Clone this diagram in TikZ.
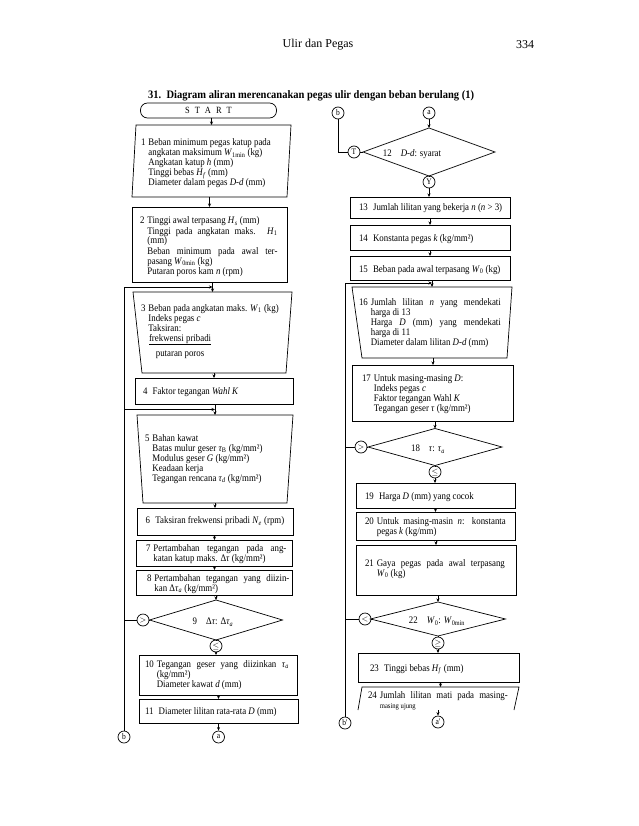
\documentclass[tikz,border=0pt]{standalone}
\usepackage{fontspec}
\setmainfont{Liberation Serif}
\newfontfamily\bodyfam{Liberation Serif}[FakeStretch=0.885]
\newfontfamily\titlefam{Liberation Serif}[FakeStretch=0.92]
\usetikzlibrary{arrows.meta,calc}
\newcommand\bodyfont{\bodyfam\fontsize{10}{10}\selectfont}
\newcommand\js[2]{\makebox[#1][s]{#2}}
\newcommand\iv[1]{\textit{#1}}
\newcommand\sbs[1]{\textsubscript{#1}}
\begin{document}
\begin{tikzpicture}[x=1pt,y=-1pt,
  ln/.style={line width=0.7pt},
  arr/.style={line width=0.7pt,-{Stealth[length=3.5pt,width=3pt]}},
  box/.style={draw,line width=0.7pt,rectangle,inner sep=0pt,outer sep=0pt},
  frame/.style={rectangle,inner sep=0pt,outer sep=0pt},
  txt/.style={inner sep=0pt,outer sep=0pt,anchor=base west,font=\bodyfont},
  ctxt/.style={inner sep=0pt,outer sep=0pt,font=\bodyfont},
  circ/.style={draw,circle,line width=0.7pt,minimum size=12pt,inner sep=0pt,font=\bodyfam\fontsize{8.5}{8.5}\selectfont}]
\fill[white] (0,0) rectangle (638,826);
\useasboundingbox (0,0) rectangle (638,826);

% header
\node[font=\fontsize{12}{13}\selectfont] (hdr) at (318,45) {Ulir dan Pegas};
\node[font=\fontsize{12}{13}\selectfont] (pg) at (525,45) {334};
\node[font=\titlefam\fontsize{11.4}{12}\selectfont\bfseries,anchor=base west,inner sep=0pt] (title) at (148,99)
  {31.\ \ Diagram aliran merencanakan pegas ulir dengan beban berulang (1)};

% ================= LEFT COLUMN =================
\node[box,rounded corners=7pt,minimum width=136pt,minimum height=15pt,anchor=north,font=\bodyfam\fontsize{9.5}{9.5}\selectfont]
  (start) at (208.5,103) {S\hspace{5pt}T\hspace{5pt}A\hspace{5pt}R\hspace{5pt}T};

% box 1
\node[frame,minimum width=155pt,minimum height=72pt,anchor=north] (b1) at (211.5,125) {};
\draw[ln] ([xshift=2pt]b1.north west) -- ([xshift=2pt]b1.north east) -- ([xshift=-2pt]b1.south east) -- ([xshift=-2pt]b1.south west) -- cycle;
\node[txt] (t1) at (141,146) {\begin{tabular}[t]{@{}l@{\hspace{3pt}}l@{}}
1&Beban minimum pegas katup pada\\
&angkatan maksimum \iv{W}\sbs{1min} (kg)\\
&Angkatan katup \iv{h} (mm)\\
&Tinggi bebas \iv{H}\sbs{\iv{f}} (mm)\\
&Diameter dalam pegas \iv{D-d} (mm)\end{tabular}};

% box 2
\node[box,minimum width=155pt,minimum height=75pt,anchor=north] (b2) at (209.5,207) {};
\node[txt] (t2) at (140,224) {\begin{tabular}[t]{@{}l@{\hspace{3pt}}l@{}}
2&Tinggi awal terpasang \iv{H}\sbs{\iv{s}} (mm)\\
&\js{130pt}{Tinggi pada angkatan maks. \iv{H}\sbs{1}}\\
&(mm)\\
&\js{130pt}{Beban minimum pada awal ter-}\\
&pasang \iv{W}\sbs{0min} (kg)\\
&Putaran poros kam \iv{n} (rpm)\end{tabular}};

% box 3 (trapezoid)
\node[frame,minimum width=159pt,minimum height=81pt,anchor=north] (b3) at (212.5,292) {};
\draw[ln] (b3.north west) -- (b3.north east) -- ([xshift=-6pt]b3.south east) -- ([xshift=9pt]b3.south west) -- cycle;
\node[txt] (t3) at (141,311) {\begin{tabular}[t]{@{}l@{\hspace{3pt}}l@{}}
3&Beban pada angkatan maks. \iv{W}\sbs{1} (kg)\\
&Indeks pegas \iv{c}\\
&Taksiran:\end{tabular}};
\node[txt] (f3n) at (149,341) {frekwensi pribadi};
\draw[line width=0.4pt] ([yshift=-3.5pt]f3n.base west) -- ([yshift=-3.5pt]f3n.base east);
\node[ctxt,anchor=base] (f3d) at ([yshift=-15pt]f3n.base) {putaran poros};

% box 4
\node[box,minimum width=158pt,minimum height=26pt,anchor=north] (b4) at (214,378) {};
\node[txt] (t4) at (143,394) {4\hspace{3pt} Faktor tegangan \iv{Wahl K}};

% box 5 (trapezoid)
\node[frame,minimum width=156pt,minimum height=88pt,anchor=north] (b5) at (215,415) {};
\draw[ln] (b5.north west) -- (b5.north east) -- ([xshift=-6pt]b5.south east) -- ([xshift=6pt]b5.south west) -- cycle;
\node[txt] (t5) at (145,441) {\begin{tabular}[t]{@{}l@{\hspace{3pt}}l@{}}
5&Bahan kawat\\
&Batas mulur geser \iv{τ}\sbs{B} (kg/mm²)\\
&Modulus geser \iv{G} (kg/mm²)\\
&Keadaan kerja\\
&Tegangan rencana \iv{τ}\sbs{\iv{d}} (kg/mm²)\end{tabular}};

% box 6
\node[box,minimum width=156pt,minimum height=27pt,anchor=north] (b6) at (215,508) {};
\node[ctxt] (t6) at (215,521.5) {6\hspace{3pt} Taksiran frekwensi pribadi \iv{N}\sbs{\iv{e}} (rpm)};

% box 7
\node[box,minimum width=156pt,minimum height=26pt,anchor=north] (b7) at (214.5,540) {};
\node[txt] (t7) at (146,551) {\begin{tabular}[t]{@{}l@{\hspace{3pt}}l@{}}
7&\js{133pt}{Pertambahan tegangan pada ang-}\\
&katan katup maks. Δ\iv{τ} (kg/mm²)\end{tabular}};

% box 8
\node[box,minimum width=156pt,minimum height=25pt,anchor=north] (b8) at (214.5,570) {};
\node[txt] (t8) at (147,581) {\begin{tabular}[t]{@{}l@{\hspace{3pt}}l@{}}
8&\js{135pt}{Pertambahan tegangan yang diizin-}\\
&kan Δ\iv{τ}\sbs{\iv{a}} (kg/mm²)\end{tabular}};

% diamond 9
\node[frame,minimum width=133pt,minimum height=40pt] (d9) at (216,620) {};
\draw[ln] (d9.north) -- (d9.east) -- (d9.south) -- (d9.west) -- cycle;
\node[ctxt] (t9) at (213,622) {9\hspace{9pt}Δ\iv{τ}: Δ\iv{τ}\sbs{\iv{a}}};
\node[circ] (gt9) at (143,620) {$>$};
\node[circ] (le9) at (216,646) {$\le$};

% box 10
\node[box,minimum width=158pt,minimum height=40pt,anchor=north] (b10) at (218,655) {};
\node[txt] (t10) at (145,667) {\begin{tabular}[t]{@{}l@{\hspace{3pt}}l@{}}
10&\js{132pt}{Tegangan geser yang diizinkan \iv{τ}\sbs{\iv{a}}}\\
&(kg/mm²)\\
&Diameter kawat \iv{d} (mm)\end{tabular}};

% box 11
\node[box,minimum width=159pt,minimum height=24pt,anchor=north] (b11) at (218.5,699) {};
\node[txt] (t11) at (145,714) {11\hspace{3pt} Diameter lilitan rata-rata \iv{D} (mm)};

\node[circ] (bL) at (124,737) {b};
\node[circ] (aL) at (218.5,737) {a};

% left connectors
\draw[arr] (b1.north |- start.south) -- (b1.north);
\draw[arr] (b2.north |- b1.south) -- (b2.north);
\draw[arr] (b3.north |- b2.south) -- (b3.north);
\draw[arr] (b4.north |- b3.south) -- (b4.north);
\draw[arr] (b5.north |- b4.south) -- (b5.north);
\draw[arr] (b6.north |- b5.south) -- (b6.north);
\draw[arr] (b7.north |- b6.south) -- (b7.north);
\draw[arr] (b8.north |- b7.south) -- (b8.north);
\draw[arr] (d9.north |- b8.south) -- (d9.north);
\draw[ln] (d9.south) -- (le9.north);
\draw[arr] (le9.south) -- (b10.north -| le9.south);
\draw[arr] (b11.north |- b10.south) -- (b11.north);
\draw[arr] (aL.north |- b11.south) -- (aL.north);
\coordinate (lt) at (124,287);
\coordinate (lm) at (124,409.5);
\draw[ln] (bL.north) -- (lt);
\draw[arr] (lt) -- (lt -| b3.north);
\draw[arr] (lm) -- (lm -| b5.north);
\draw[ln] (gt9.west) -- (gt9.west -| lt);
\draw[ln] (gt9.east) -- (d9.west);

% ================= RIGHT COLUMN =================
\node[circ] (bR) at (338,113) {b};
\node[circ] (aR) at (429,113) {a};

% diamond 12
\node[frame,minimum width=132pt,minimum height=48pt] (d12) at (429,152) {};
\draw[ln] (d12.north) -- (d12.east) -- (d12.south) -- (d12.west) -- cycle;
\node[ctxt] (t12) at (412,154) {12\hspace{9pt}\iv{D-d}: syarat};
\node[circ] (TR) at (354,152) {T};
\node[circ] (YR) at (429,182) {Y};

% box 13
\node[box,minimum width=160pt,minimum height=21pt,anchor=north] (b13) at (430,197) {};
\node[txt] (t13) at (359,211) {13\hspace{3pt} Jumlah lilitan yang bekerja \iv{n} (\iv{n} > 3)};
% box 14
\node[box,minimum width=160pt,minimum height=25pt,anchor=north] (b14) at (430,225) {};
\node[txt] (t14) at (359,241) {14\hspace{3pt} Konstanta pegas \iv{k} (kg/mm²)};
% box 15
\node[box,minimum width=160pt,minimum height=24pt,anchor=north] (b15) at (430,256) {};
\node[txt] (t15) at (359,272) {15\hspace{3pt} Beban pada awal terpasang \iv{W}\sbs{0} (kg)};

% box 16 (trapezoid)
\node[frame,minimum width=160pt,minimum height=71pt,anchor=north] (b16) at (432,287) {};
\draw[ln] (b16.north west) -- (b16.north east) -- ([xshift=-5pt]b16.south east) -- ([xshift=10pt]b16.south west) -- cycle;
\node[txt] (t16) at (359,305) {\begin{tabular}[t]{@{}l@{\hspace{3pt}}l@{}}
16&\js{130pt}{Jumlah lilitan \iv{n} yang mendekati}\\
&harga di 13\\
&\js{130pt}{Harga \iv{D} (mm) yang mendekati}\\
&harga di 11\\
&Diameter dalam lilitan \iv{D-d} (mm)\end{tabular}};

% box 17
\node[box,minimum width=161pt,minimum height=56pt,anchor=north] (b17) at (433,365) {};
\node[txt] (t17) at (362,381) {\begin{tabular}[t]{@{}l@{\hspace{3pt}}l@{}}
17&Untuk masing-masing \iv{D}:\\
&Indeks pegas \iv{c}\\
&Faktor tegangan Wahl \iv{K}\\
&Tegangan geser \iv{τ} (kg/mm²)\end{tabular}};

% diamond 18
\node[frame,minimum width=134pt,minimum height=37pt] (d18) at (435,447) {};
\draw[ln] (d18.north) -- (d18.east) -- (d18.south) -- (d18.west) -- cycle;
\node[ctxt] (t18) at (428,449) {18\hspace{9pt}\iv{τ}: \iv{τ}\sbs{\iv{a}}};
\node[circ] (gt18) at (361,447) {$>$};
\node[circ] (le18) at (435,472) {$\le$};

% box 19
\node[box,minimum width=159pt,minimum height=25pt,anchor=north] (b19) at (435.5,483) {};
\node[txt] (t19) at (365,499) {19\hspace{3pt} Harga \iv{D} (mm) yang cocok};
% box 20
\node[box,minimum width=159pt,minimum height=28pt,anchor=north] (b20) at (435.5,512) {};
\node[txt] (t20) at (365,524) {\begin{tabular}[t]{@{}l@{\hspace{3pt}}l@{}}
20&\js{129pt}{Untuk masing-masin \iv{n}: konstanta}\\
&pegas \iv{k} (kg/mm)\end{tabular}};
% box 21
\node[box,minimum width=160pt,minimum height=50pt,anchor=north] (b21) at (436,545) {};
\node[txt] (t21) at (365,566) {\begin{tabular}[t]{@{}l@{\hspace{3pt}}l@{}}
21&\js{128pt}{Gaya pegas pada awal terpasang}\\
&\iv{W}\sbs{0} (kg)\end{tabular}};

% diamond 22
\node[frame,minimum width=135pt,minimum height=34pt] (d22) at (438,619) {};
\draw[ln] (d22.north) -- (d22.east) -- (d22.south) -- (d22.west) -- cycle;
\node[ctxt] (t22) at (437,621) {22\hspace{9pt}\iv{W}\sbs{0}: \iv{W}\sbs{0min}};
\node[circ] (lt22) at (365,619) {$<$};
\node[circ] (ge22) at (438,643) {$\ge$};

% box 23
\node[box,minimum width=161pt,minimum height=29pt,anchor=north] (b23) at (438.5,653) {};
\node[txt] (t23) at (370,671) {23\hspace{3pt} Tinggi bebas \iv{H}\sbs{\iv{f}} (mm)};

% box 24 (open parallelogram)
\node[frame,minimum width=157pt,minimum height=23pt,anchor=north] (b24) at (440.5,687) {};
\draw[ln] ([xshift=-4pt]b24.south west) -- (b24.north west) -- (b24.north east) -- ([xshift=-5pt]b24.south east);
\node[txt] (t24) at (368,698) {\begin{tabular}[t]{@{}l@{\hspace{3pt}}l@{}}
24&\js{128pt}{Jumlah lilitan mati pada masing-}\\
&{\fontsize{7.5}{8}\selectfont masing ujung}\end{tabular}};

\node[circ] (bR2) at (345,723) {b'};
\node[circ] (aR2) at (438,722) {a'};

% right connectors
\draw[ln] (bR.south) |- (TR.west);
\draw[ln] (TR.east) -- (d12.west);
\draw[arr] (aR.south) -- (d12.north);
\draw[ln] (d12.south) -- (YR.north);
\draw[arr] (YR.south) -- (b13.north -| YR.south);
\draw[arr] (b14.north |- b13.south) -- (b14.north);
\draw[arr] (b15.north |- b14.south) -- (b15.north);
\draw[arr] (b16.north |- b15.south) -- (b16.north);
\draw[arr] (b17.north |- b16.south) -- (b17.north);
\draw[arr] (d18.north |- b17.south) -- (d18.north);
\draw[ln] (d18.south) -- (le18.north);
\draw[arr] (le18.south) -- (b19.north -| le18.south);
\draw[arr] (b20.north |- b19.south) -- (b20.north);
\draw[arr] (b21.north |- b20.south) -- (b21.north);
\draw[arr] (d22.north |- b21.south) -- (d22.north);
\draw[ln] (d22.south) -- (ge22.north);
\draw[arr] (ge22.south) -- (b23.north -| ge22.south);
\draw[arr] (b24.north |- b23.south) -- (b24.north);
\draw[arr] (aR2.north |- b24.south) -- (aR2.north);
\coordinate (rt) at (345,283);
\draw[ln] (bR2.north) -- (rt);
\draw[arr] (rt) -- (rt -| b16.north);
\draw[ln] (gt18.west) -- (gt18.west -| rt);
\draw[ln] (gt18.east) -- (d18.west);
\draw[ln] (lt22.west) -- (lt22.west -| rt);
\draw[ln] (lt22.east) -- (d22.west);
\end{tikzpicture}
\end{document}
